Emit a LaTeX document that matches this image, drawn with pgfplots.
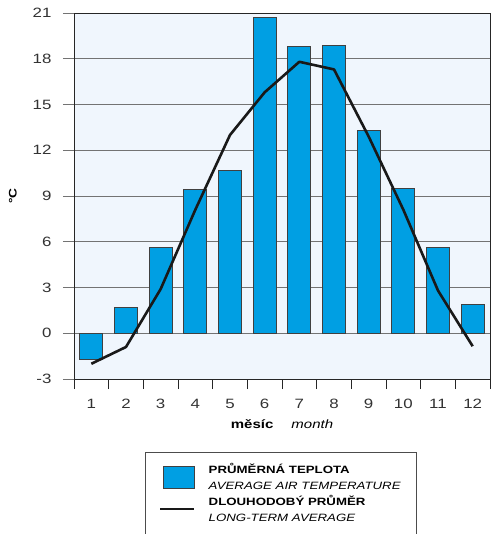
\documentclass[border=0pt]{standalone}
\usepackage{fontspec}
\setmainfont[FakeStretch=1.25]{Liberation Sans}
\usepackage{pgfplots}
\pgfplotsset{compat=1.18}
\definecolor{barblue}{HTML}{009FE3}
\definecolor{bgblue}{HTML}{F0F6FD}
\begin{document}
\begin{tikzpicture}
\begin{axis}[
  scale only axis, width=416bp, height=366bp,
  xmin=0.5, xmax=12.5, ymin=-3, ymax=21,
  axis background/.style={fill=bgblue},
  axis line style={black!85, line width=0.8bp},
  ytick={-3,0,3,6,9,12,15,18,21},
  yticklabels={-3,0,3,6,9,12,15,18,21},
  xtick={1,2,3,4,5,6,7,8,9,10,11,12},
  xticklabels={1,2,3,4,5,6,7,8,9,10,11,12},
  minor xtick={0.5,1.5,2.5,3.5,4.5,5.5,6.5,7.5,8.5,9.5,10.5,11.5,12.5},
  xtick pos=bottom, ytick pos=left,
  tick align=outside,
  major tick length=11bp, minor tick length=10bp,
  major x tick style={draw=none},
  minor x tick style={black!85, line width=0.8bp},
  major y tick style={black!55, line width=0.8bp},
  ymajorgrids, major grid style={black!55, line width=0.8bp},
  ticklabel style={font=\fontsize{13.5bp}{15bp}\selectfont, text=black!80},
  yticklabel style={xshift=-8bp},
  xticklabel style={yshift=-6bp},
  xlabel={\textbf{měsíc}\hspace{18bp}\textit{month}},
  xlabel style={font=\fontsize{12bp}{14bp}\selectfont, at={(axis description cs:0.5,-0.123)}, anchor=center},
  ylabel={\textbf{°C}},
  ylabel style={font=\fontsize{11bp}{13bp}\selectfont, at={(axis description cs:-0.147,0.5)}, anchor=center, rotate=0},
  legend cell align=left,
  legend style={at={(axis description cs:0.170,-0.200)}, anchor=north west,
    draw=black!70, line width=0.8bp, fill=white,
    font=\fontsize{10.6bp}{16bp}\selectfont,
    nodes={align=left},
    inner xsep=14bp, inner ysep=9bp, row sep=0bp,
    /tikz/every odd column/.append style={column sep=11bp}},
]
\addplot[ybar, bar width=23bp, fill=barblue, draw=black!75, line width=0.8bp,
  legend image code/.code={\draw[fill=barblue, draw=black!75, line width=0.8bp] (0bp,-11bp) rectangle (31bp,11bp);}]
  coordinates {(1,-1.7) (2,1.7) (3,5.6) (4,9.4) (5,10.7) (6,20.7) (7,18.8) (8,18.9) (9,13.3) (10,9.5) (11,5.6) (12,1.9)};
\addlegendentry{\textbf{PRŮMĚRNÁ TEPLOTA}\\\textit{AVERAGE AIR TEMPERATURE}}
\addplot[sharp plot, no marks, line width=2.6bp, black!90, line join=round,
  legend image code/.code={\draw[line width=2.6bp, black!90] (-3bp,0bp) -- (31bp,0bp);}]
  coordinates {(1,-2.0) (2,-0.9) (3,2.9) (4,8.1) (5,13.0) (6,15.8) (7,17.8) (8,17.3) (9,12.9) (10,8.1) (11,2.8) (12,-0.85)};
\addlegendentry{\textbf{DLOUHODOBÝ PRŮMĚR}\\\textit{LONG-TERM AVERAGE}}
\addlegendimage{empty legend}
\addlegendentry{\strut}
\end{axis}
\pgfresetboundingbox
\useasboundingbox (-74bp,-155bp) rectangle (420bp,379bp);
\end{tikzpicture}
\end{document}
